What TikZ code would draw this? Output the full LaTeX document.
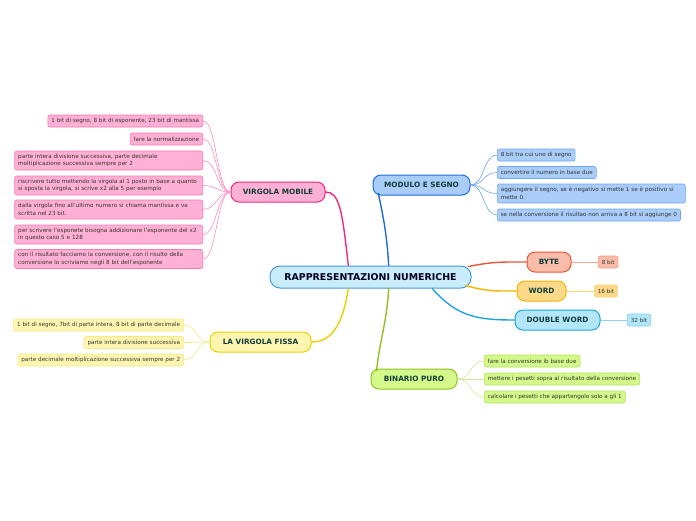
\documentclass[tikz,border=0pt]{standalone}
\usepackage{fontspec}
\setmainfont{DejaVu Sans}
\usetikzlibrary{calc}
\definecolor{txtmain}{HTML}{0F3D3A}
\definecolor{txtleaf}{HTML}{333333}
\definecolor{cfill}{HTML}{C8ECFA}\definecolor{cdraw}{HTML}{4A9AD6}
\definecolor{pfill}{HTML}{FFB0D4}\definecolor{pdraw}{HTML}{EE2A7E}\definecolor{pleafd}{HTML}{F57AB2}\definecolor{pline}{HTML}{FF8EC0}
\definecolor{mfill}{HTML}{A9CDF8}\definecolor{mdraw}{HTML}{1E6ED6}\definecolor{mleafd}{HTML}{6EA6EE}\definecolor{mline}{HTML}{6EA6EE}
\definecolor{bfill}{HTML}{F9BCA9}\definecolor{bdraw}{HTML}{E8573A}\definecolor{bleafd}{HTML}{F59C82}\definecolor{bline}{HTML}{F7A88F}
\definecolor{wfill}{HTML}{FDDA8A}\definecolor{wdraw}{HTML}{F5B400}\definecolor{wleafd}{HTML}{FBD27A}\definecolor{wline}{HTML}{FCD77A}
\definecolor{dfill}{HTML}{B4E6FA}\definecolor{ddraw}{HTML}{1EA5E0}\definecolor{dleafd}{HTML}{7DCDF0}\definecolor{dline}{HTML}{8FD4F3}
\definecolor{ffill}{HTML}{FEF6B0}\definecolor{fdraw}{HTML}{E8D100}\definecolor{fleafd}{HTML}{F5E88A}\definecolor{fline}{HTML}{F3E98A}
\definecolor{gfill}{HTML}{D4F98A}\definecolor{gdraw}{HTML}{8FC320}\definecolor{gleafd}{HTML}{B4E060}\definecolor{gline}{HTML}{CDE99A}
\tikzset{
  mainbox/.style={draw, line width=1pt, rounded corners=8pt, minimum height=20pt, inner xsep=2pt, inner ysep=0pt,
    font=\fontsize{7.3}{8}\selectfont\bfseries, text=txtmain},
  leafbox/.style={draw, line width=0.6pt, rounded corners=2pt, inner xsep=3.5pt, inner ysep=0pt, minimum height=12pt,
    align=left, font=\fontsize{5.65}{7.6}\selectfont, text=txtleaf},
  pleaf/.style={leafbox, fill=pfill, draw=pleafd, anchor=east},
  mleaf/.style={leafbox, fill=mfill, draw=mleafd, anchor=west},
  fleaf/.style={leafbox, fill=ffill, draw=fleafd, anchor=east},
  gleaf/.style={leafbox, fill=gfill, draw=gleafd, anchor=west},
  branch/.style={line width=1.4pt, line cap=round},
  twig/.style={line width=0.6pt},
}
\begin{document}
\begin{tikzpicture}[x=1pt,y=-1pt]
\useasboundingbox (0,0) rectangle (696,520);
% center
\node[draw=cdraw, fill=cfill, line width=1pt, rounded corners=10pt, minimum width=201pt, minimum height=22pt,
  font=\fontsize{9.4}{10}\selectfont\bfseries, text=black!80!blue!60!black] (c) at (370.5,277) {RAPPRESENTAZIONI NUMERICHE};
% main branches
\node[mainbox, fill=pfill, draw=pdraw, minimum width=94pt] (vm) at (278,192) {VIRGOLA MOBILE};
\node[mainbox, fill=mfill, draw=mdraw, minimum width=97pt] (ms) at (421.5,185) {MODULO E SEGNO};
\node[mainbox, fill=bfill, draw=bdraw, minimum width=44pt] (by) at (549,262) {BYTE};
\node[mainbox, fill=wfill, draw=wdraw, minimum width=49pt] (wo) at (541.5,291) {WORD};
\node[mainbox, fill=dfill, draw=ddraw, minimum width=85pt] (dw) at (557.5,320) {DOUBLE WORD};
\node[mainbox, fill=ffill, draw=fdraw, minimum width=101pt] (vf) at (260.5,342) {LA VIRGOLA FISSA};
\node[mainbox, fill=gfill, draw=gdraw, minimum width=86pt] (bp) at (414,379) {BINARIO PURO};
% anchor points on center
\coordinate (cvm) at ($(c.north west)!0.39!(c.north east)$);
\coordinate (cms) at ($(c.north west)!0.59!(c.north east)$);
\coordinate (cvf) at ($(c.south west)!0.39!(c.south east)$);
\coordinate (cbp) at ($(c.south west)!0.59!(c.south east)$);
\coordinate (cby) at ($(c.north east)+(-3,1)$);
\coordinate (cwo) at ($(c.south east)+(-6,-3)$);
\coordinate (cdw) at ($(c.south west)!0.805!(c.south east)$);
\coordinate (msin) at ($(ms.south west)!0.06!(ms.south east)+(0,-2)$);
\coordinate (bpin) at ($(bp.north west)!0.07!(bp.north east)+(0,2)$);
\draw[branch, draw=pdraw] (cvm) .. controls +(-6,-55) and +(14,0) .. (vm.east);
\draw[branch, draw=mdraw] (cms) .. controls +(-2,-35) and +(4,20) .. (msin);
\draw[branch, draw=fdraw] (cvf) .. controls +(-6,40) and +(18,0) .. (vf.east);
\draw[branch, draw=gdraw] (cbp) .. controls +(-2,35) and +(3,-30) .. (bpin);
\draw[branch, draw=bdraw] (cby) .. controls +(25,-5) and +(-25,0) .. (by.west);
\draw[branch, draw=wdraw] (cwo) .. controls +(22,6) and +(-22,0) .. (wo.west);
\draw[branch, draw=ddraw] (cdw) .. controls +(25,28) and +(-38,0) .. (dw.west);
% virgola mobile leaves
\node[pleaf] (v1) at (203,121) {1 bit di segno, 8 bit di esponente, 23 bit di mantissa};
\node[pleaf] (v2) at (203,139) {fare la normalizzazione};
\node[pleaf, minimum height=19pt, text width=181pt] (v3) at (203,160.5) {parte intera divisione successiva, parte decimale\\moltiplicazione successiva sempre per 2};
\node[pleaf, minimum height=19pt, text width=181pt] (v4) at (203,185.5) {riscrivere tutto mettendo la virgola al 1 posto in base a quanto\\si sposta la virgola, si scrive x2 alla 5 per esempio};
\node[pleaf, minimum height=19pt, text width=181pt] (v5) at (203,209.5) {dalla virgola fino all'ultimo numero si chiama mantissa e va\\scritta nel 23 bit.};
\node[pleaf, minimum height=19pt, text width=181pt] (v6) at (203,234.5) {per scrivere l'esponete bisogna addizionare l'esponente del x2\\in questo caso 5 e 128};
\node[pleaf, minimum height=19pt, text width=181pt] (v7) at (203,259) {con il risultato facciamo la conversione, con il risulto della\\conversione lo scriviamo negli 8 bit dell'esponente};
\foreach \l in {v1,v2,v3,v4,v5,v6,v7}
  \draw[twig, draw=pline] (vm.west) .. controls +(-14,0) and +(14,0) .. (\l.east);
% modulo e segno leaves
\node[mleaf] (m1) at (497,155) {8 bit tra cui uno di segno};
\node[mleaf] (m2) at (497,172.5) {convertire il numero in base due};
\node[mleaf, minimum height=19pt, text width=181pt] (m3) at (497,193.5) {aggiungere il segno, se è negativo si mette 1 se è positivo si\\mette 0.};
\node[mleaf] (m4) at (497,215) {se nella conversione il risultao non arriva a 8 bit si aggiunge 0};
\foreach \l in {m1,m2,m3,m4}
  \draw[twig, draw=mline] (ms.east) .. controls +(14,0) and +(-14,0) .. (\l.west);
% byte / word / double word leaves
\node[leafbox, fill=bfill, draw=bleafd, anchor=west] (b1) at (598,262) {8 bit};
\node[leafbox, fill=wfill, draw=wleafd, anchor=west] (w1) at (594,291) {16 bit};
\node[leafbox, fill=dfill, draw=dleafd, anchor=west] (d1) at (627,320) {32 bit};
\draw[twig, draw=bline] (by.east) -- (b1.west);
\draw[twig, draw=wline] (wo.east) -- (w1.west);
\draw[twig, draw=dline] (dw.east) -- (d1.west);
% virgola fissa leaves
\node[fleaf] (f1) at (184,325) {1 bit di segno, 7bit di parte intera, 8 bit di parte decimale};
\node[fleaf] (f2) at (184,342.5) {parte intera divisione successiva};
\node[fleaf] (f3) at (184,360) {parte decimale moltiplicazione successiva sempre per 2};
\foreach \l in {f1,f2,f3}
  \draw[twig, draw=fline] (vf.west) .. controls +(-14,0) and +(14,0) .. (\l.east);
% binario puro leaves
\node[gleaf] (g1) at (484,361) {fare la conversione ib base due};
\node[gleaf] (g2) at (484,379) {mettere i pesetti sopra al risultato della conversione};
\node[gleaf] (g3) at (484,397) {calcolare i pesetti che appartengolo solo a gli 1};
\foreach \l in {g1,g2,g3}
  \draw[twig, draw=gline] (bp.east) .. controls +(14,0) and +(-14,0) .. (\l.west);
\end{tikzpicture}
\end{document}
